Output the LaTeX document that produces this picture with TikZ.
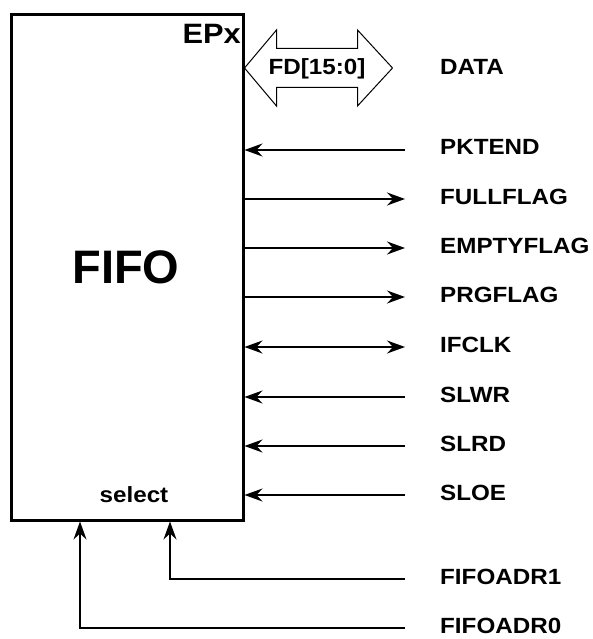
\documentclass[tikz,border=0pt]{standalone}
\usepackage{fontspec}
\setmainfont{Liberation Sans}
\newfontfamily\widesf[FakeStretch=1.1]{Liberation Sans}
\usepackage{xcolor}
\usetikzlibrary{arrows.meta, positioning}

\begin{document}
\begin{tikzpicture}[
        x=1pt, y=-1pt,
        >={Stealth[length=18pt, width=13pt, inset=6pt]},
        block/.style={draw, line width=3pt, minimum width=232pt, minimum height=505pt, inner sep=0pt},
        pin/.style={anchor=west, inner sep=0pt, text height=16pt, text depth=6pt, font=\widesf\fontsize{22}{26}\selectfont\bfseries},
        sig/.style={line width=1.2pt},
        bus/.style={draw, line width=1pt, line join=miter}
    ]
        \useasboundingbox (0,0) rectangle (592,639);

        % Nodes
        \node[block] (fifo) at (127,267.5) {};
        \node[font=\fontsize{47}{52}\selectfont\bfseries] (name) at (126,267) {FIFO};
        \node[anchor=base east, inner sep=0pt, font=\widesf\fontsize{28}{32}\selectfont\bfseries] (ep) at (241,44) {EPx};
        \node[anchor=base, inner sep=0pt, font=\widesf\fontsize{22}{26}\selectfont\bfseries] (sel) at (134,502) {select};
        \node[anchor=base, inner sep=0pt, font=\widesf\fontsize{22}{26}\selectfont\bfseries] (fd) at (317,75) {FD[15:0]};

        \node[pin] (data) at (440,70) {DATA};
        \node[pin] (pktend) at (440,150) {PKTEND};
        \node[pin] (full) at (440,199) {FULLFLAG};
        \node[pin] (empty) at (440,248) {EMPTYFLAG};
        \node[pin] (prg) at (440,297) {PRGFLAG};
        \node[pin] (ifclk) at (440,347) {IFCLK};
        \node[pin] (slwr) at (440,397) {SLWR};
        \node[pin] (slrd) at (440,446) {SLRD};
        \node[pin] (sloe) at (440,495) {SLOE};
        \node[pin] (adr1) at (440,579) {FIFOADR1};
        \node[pin] (adr0) at (440,628) {FIFOADR0};

        % Bus
        \draw[bus] (fifo.east |- 0,68) -- ++(32,-38) -- ++(0,18.5) -- ++(81,0) -- ++(0,-18.5)
            -- ++(35,38) -- ++(-35,38) -- ++(0,-18.5) -- ++(-81,0) -- ++(0,18.5) -- cycle;

        % Arrows
        \draw[sig, <-] (fifo.east |- pktend) -- ([xshift=-35pt]pktend.west);
        \draw[sig, ->] (fifo.east |- full) -- ([xshift=-35pt]full.west);
        \draw[sig, ->] (fifo.east |- empty) -- ([xshift=-35pt]empty.west);
        \draw[sig, ->] (fifo.east |- prg) -- ([xshift=-35pt]prg.west);
        \draw[sig, <->] (fifo.east |- ifclk) -- ([xshift=-35pt]ifclk.west);
        \draw[sig, <-] (fifo.east |- slwr) -- ([xshift=-35pt]slwr.west);
        \draw[sig, <-] (fifo.east |- slrd) -- ([xshift=-35pt]slrd.west);
        \draw[sig, <-] (fifo.east |- sloe) -- ([xshift=-35pt]sloe.west);

        \draw[sig, <-] (fifo.south -| 170,0) -- (170,0 |- adr1) -- ([xshift=-35pt]adr1.west);
        \draw[sig, <-] (fifo.south -| 80,0) -- (80,0 |- adr0) -- ([xshift=-35pt]adr0.west);

    \end{tikzpicture}
\end{document}
